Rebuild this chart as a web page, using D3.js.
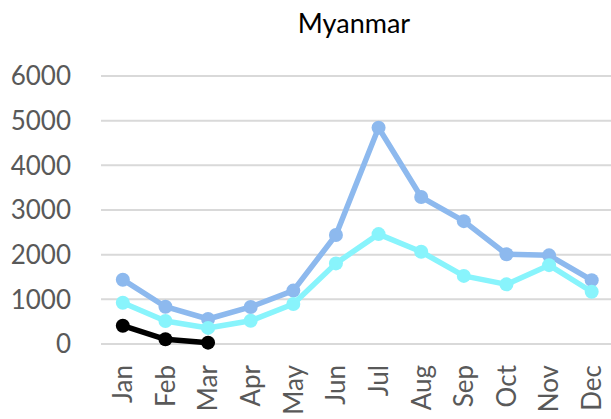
<!DOCTYPE html>
<html>
    <head>
        <meta http-equiv="Content-Type" content="text/html; charset=UTF-8">
        <script src="https://d3js.org/d3.v7.min.js"></script>
        <style>
            html, body {
                margin: 0;
                background-color: white;
                font-family: Lato, 'Open Sans', sans-serif;
            }
        </style>
        <title>Myanmar</title>
    </head>
    <body>
        <script>
            var months = ["Jan", "Feb", "Mar", "Apr", "May", "Jun", "Jul", "Aug", "Sep", "Oct", "Nov", "Dec"];
            var yTicks = [0, 1000, 2000, 3000, 4000, 5000, 6000];
            // series
            var seriesBlue = [1440, 835, 560, 830, 1195, 2440, 4840, 3290, 2750, 2010, 1985, 1430];
            var seriesCyan = [925, 515, 360, 520, 895, 1805, 2460, 2065, 1525, 1335, 1765, 1170];
            var seriesBlack = [410, 105, 30];

            var ww = 611, hh = 419;
            var svg = d3.select("body").append("svg").attr("width", ww).attr("height", hh);

            var x = d3.scaleBand().domain(months).range([101.5, 613]);
            var y = d3.scaleLinear().domain([0, 6000]).range([344, 76]);

            // gridlines
            svg.append("g").selectAll("line").data(yTicks).enter().append("line")
                .attr("x1", 101).attr("x2", ww)
                .attr("y1", function(d) { return y(d); })
                .attr("y2", function(d) { return y(d); })
                .style("stroke", "#d9d9d9").style("stroke-width", 2);

            // y labels
            svg.append("g").selectAll("text").data(yTicks).enter().append("text")
                .attr("x", 71).attr("y", function(d) { return y(d); })
                .attr("dy", "0.36em")
                .attr("text-anchor", "end")
                .style("font-size", "26px").style("fill", "#595959")
                .text(function(d) { return d; });

            // x labels
            svg.append("g").selectAll("text").data(months).enter().append("text")
                .attr("transform", function(d) {
                    return "translate(" + (x(d) + x.bandwidth() / 2) + ",365) rotate(-90)";
                })
                .attr("dy", "0.36em")
                .attr("text-anchor", "end")
                .style("font-size", "26px").style("fill", "#595959")
                .text(function(d) { return d; });

            // title
            svg.append("text").attr("x", 354).attr("y", 33)
                .attr("text-anchor", "middle")
                .style("font-size", "27px").style("fill", "black")
                .text("Myanmar");

            var line = d3.line()
                .x(function(d, i) { return x(months[i]) + x.bandwidth() / 2; })
                .y(function(d) { return y(d); });

            function drawSeries(data, color) {
                svg.append("path").datum(data)
                    .attr("d", line)
                    .style("fill", "none").style("stroke", color)
                    .style("stroke-width", 5.5).style("stroke-linejoin", "round");
                svg.append("g").selectAll("circle").data(data).enter().append("circle")
                    .attr("cx", function(d, i) { return x(months[i]) + x.bandwidth() / 2; })
                    .attr("cy", function(d) { return y(d); })
                    .attr("r", 7)
                    .style("fill", color);
            }

            drawSeries(seriesBlue, "#8db9ee");
            drawSeries(seriesCyan, "#88f4fc");
            drawSeries(seriesBlack, "#000000");
        </script>
    </body>
</html>
